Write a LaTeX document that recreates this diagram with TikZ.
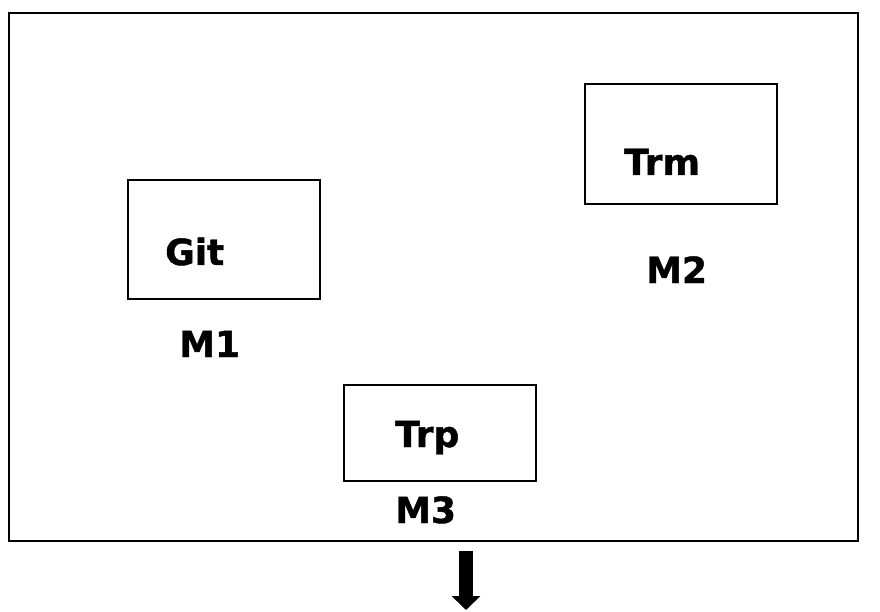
\documentclass[tikz,border=0pt]{standalone}
\usepackage{fontspec}
\setmainfont{DejaVu Sans}
\newfontfamily\labelfont{DejaVu Sans Bold}[FakeBold=1.2]
\usetikzlibrary{arrows.meta}
\begin{document}
\begin{tikzpicture}[x=1pt,y=-1pt,
  box/.style={draw=black,line width=1.4pt,minimum width=192pt,inner sep=0pt,outer sep=0pt},
  lbl/.style={anchor=base west,inner sep=0pt,font=\labelfont\fontsize{36}{40}\selectfont}]
\useasboundingbox (0,0) rectangle (880,612);
\node[draw=black,line width=2pt,minimum width=849pt,minimum height=528pt,inner sep=0pt,anchor=north west] (frame) at (8,12) {};
\node[box,minimum height=119pt,anchor=north west] (git) at (128,180) {};
\node[box,minimum height=120pt,anchor=north west] (trm) at (585,84) {};
\node[box,minimum height=96pt,anchor=north west] (trp) at (344,385) {};
\node[lbl] (gitl) at (165,265) {Git};
\node[lbl] (m1) at (179,357) {M1};
\node[lbl] (trml) at (624,175) {Trm};
\node[lbl] (m2) at (646,283) {M2};
\node[lbl] (trpl) at (395,447) {Trp};
\node[lbl] (m3) at (395,523) {M3};
\coordinate (arrtop) at (466,551);
\coordinate (arrtip) at (466,610);
\draw[line width=14pt,-{Triangle[width=28pt,length=14pt]}] (arrtop) -- (arrtip);
\end{tikzpicture}
\end{document}
